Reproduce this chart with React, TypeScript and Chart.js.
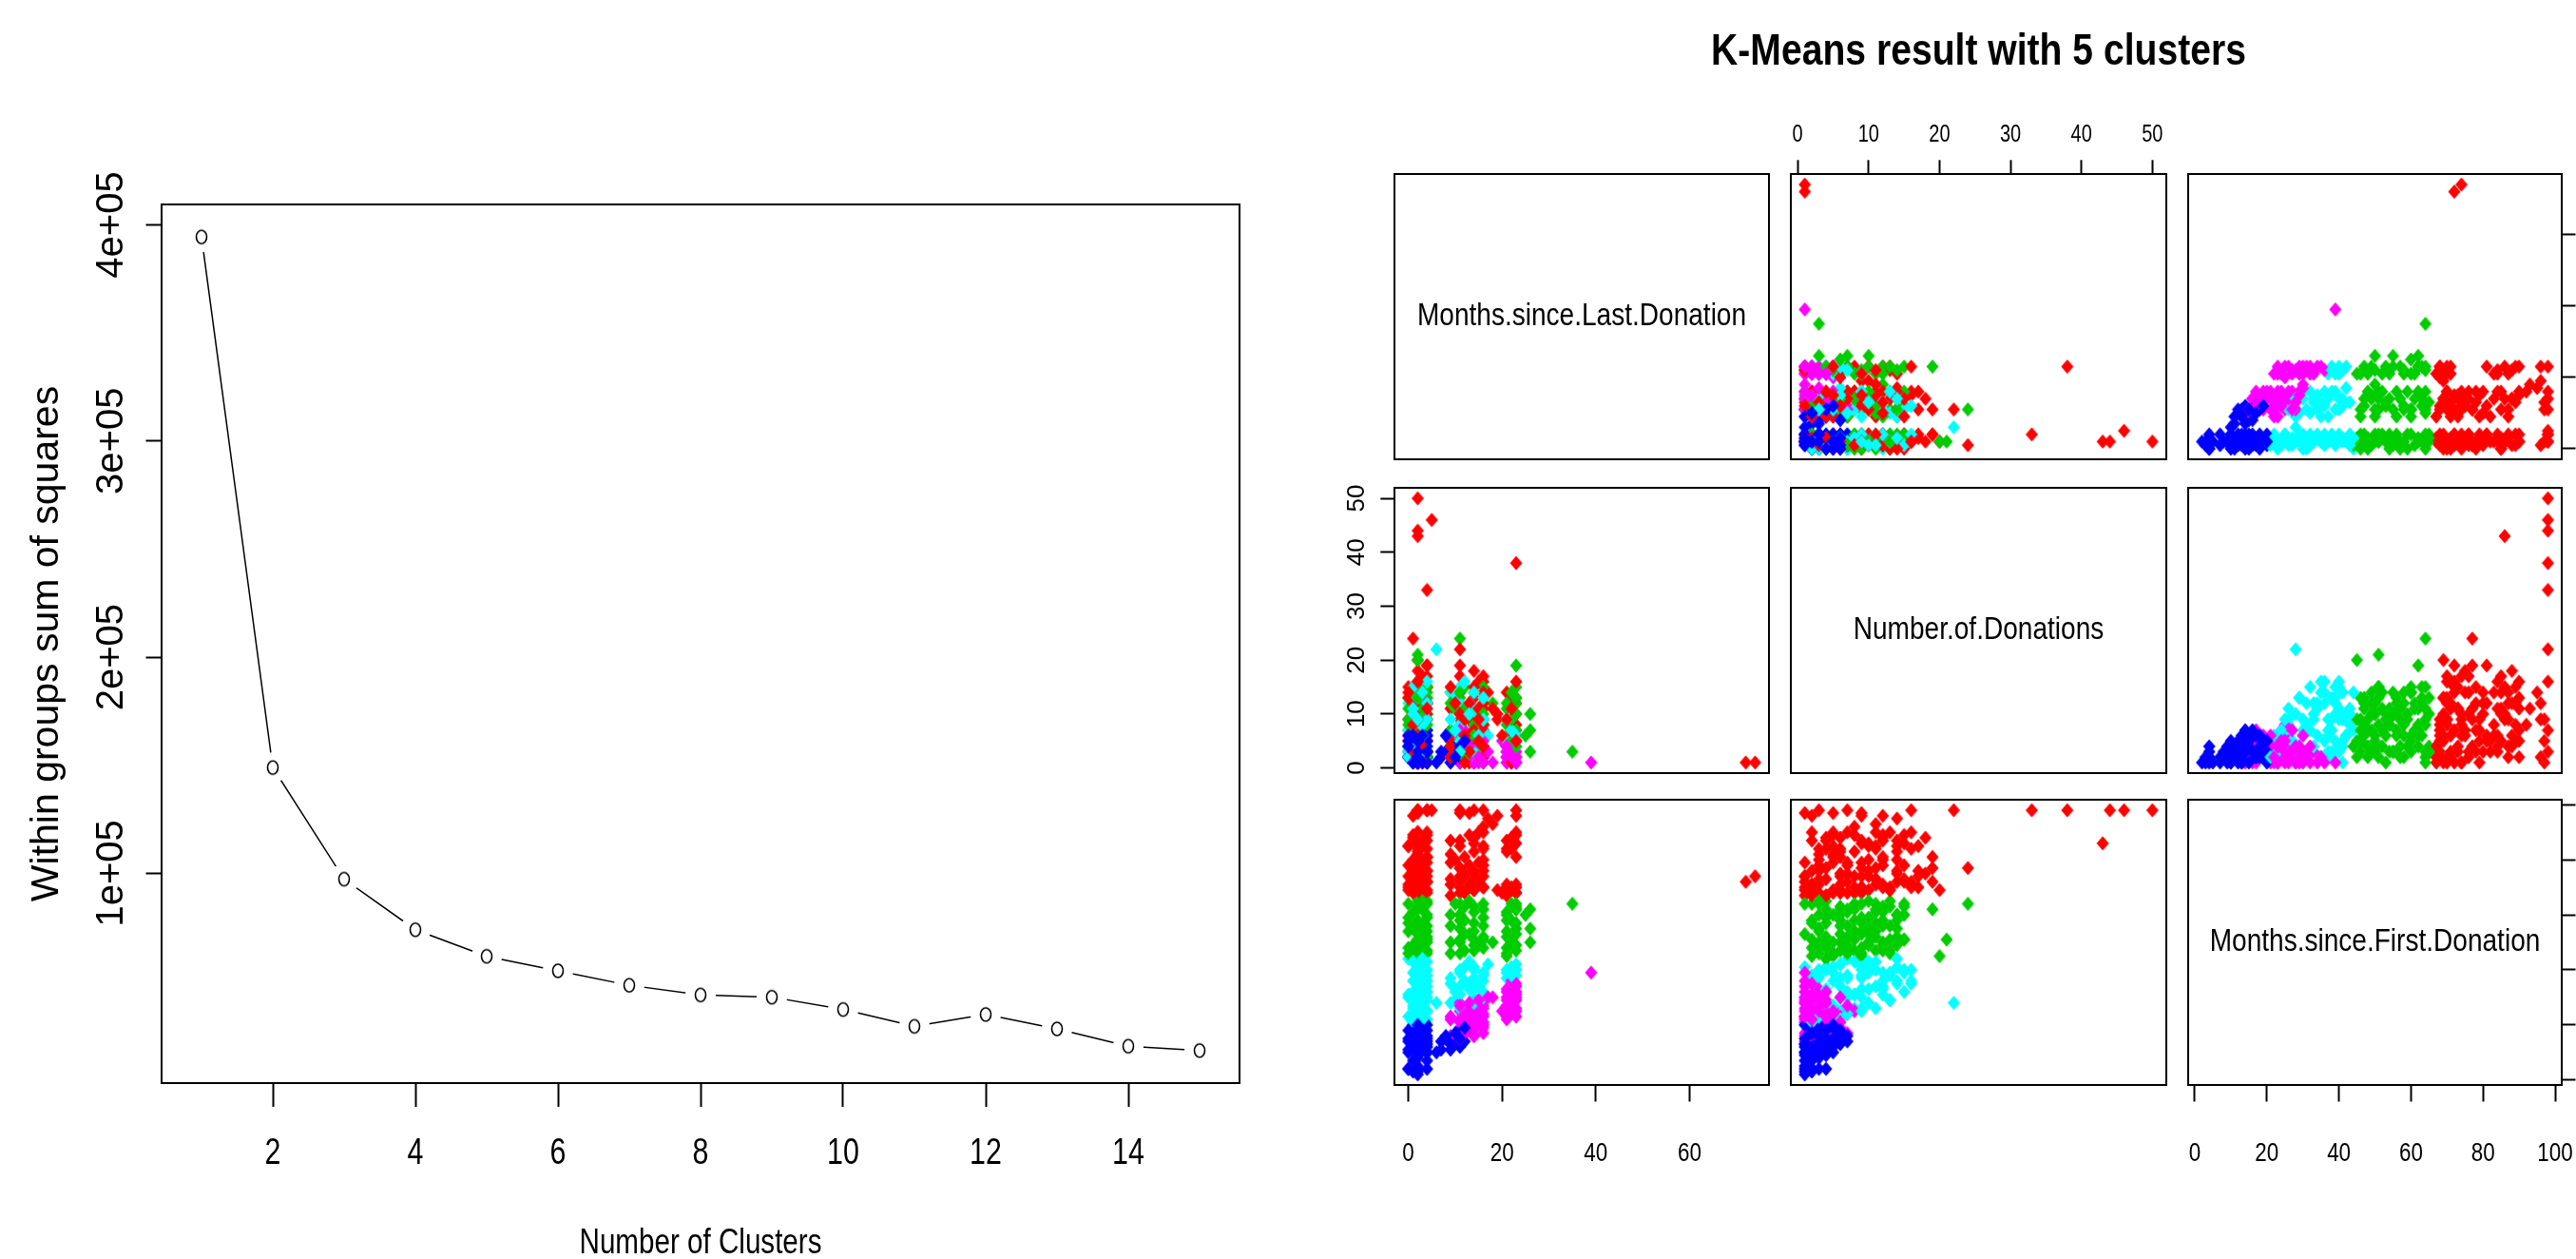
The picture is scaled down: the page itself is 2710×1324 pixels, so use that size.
import React, { useEffect, useRef } from "react";
import { Chart, registerables } from "chart.js";

Chart.register(...registerables);

// ================= Elbow plot data =================
const clusterCounts = [1, 2, 3, 4, 5, 6, 7, 8, 9, 10, 11, 12, 13, 14, 15];
const withinSS = [394400, 148900, 97300, 73900, 61600, 54900, 48200, 43700, 42700, 37000, 29200, 34700, 28000, 20000, 18000];
const elbowXTicks = [2, 4, 6, 8, 10, 12, 14];
const elbowYTicks = [100000, 200000, 300000, 400000];
const elbowYTickLabels = ["1e+05", "2e+05", "3e+05", "4e+05"];

// ================= K-means pairs data =================
const variableNames = ["Months.since.Last.Donation", "Number.of.Donations", "Months.since.First.Donation"];
const lastTicks = [0, 20, 40, 60];
const donationTicks = [0, 10, 20, 30, 40, 50];
const firstTicks = [0, 20, 40, 60, 80, 100];

const blueLast = [2, 2, 1, 0, 2, 4, 2, 4, 2, 2, 2, 6, 4, 2, 0, 9, 7, 1, 4, 11, 3, 2, 11, 4, 2, 9, 12, 0, 4, 8, 1, 2, 11, 10, 3, 12, 4, 11, 2, 1, 4, 2, 0, 1, 2, 4, 0, 2, 3, 1, 4, 2, 0, 3, 2, 4, 1, 2, 0, 3, 2, 9, 11, 7, 10, 12, 8];
const blueCount = [1, 1, 2, 3, 4, 1, 2, 2, 3, 1, 2, 1, 1, 3, 4, 2, 2, 5, 2, 1, 3, 6, 3, 7, 5, 4, 2, 2, 6, 3, 7, 4, 5, 4, 3, 3, 5, 2, 2, 3, 1, 1, 2, 1, 4, 3, 5, 2, 4, 1, 4, 3, 6, 1, 5, 3, 6, 2, 4, 6, 5, 1, 4, 3, 2, 5, 6];
const blueFirst = [2, 3, 3, 4, 4, 4, 4, 7, 8, 9, 9, 10, 10, 11, 11, 11, 11, 12, 12, 12, 13, 13, 13, 14, 14, 14, 14, 15, 15, 15, 16, 16, 16, 16, 17, 17, 18, 18, 19, 20, 20, 5, 4, 7, 9, 10, 10, 12, 12, 13, 13, 14, 14, 15, 15, 16, 17, 17, 18, 18, 20, 13, 15, 14, 17, 19, 16];

const magentaLast = [9, 11, 11, 9, 14, 14, 11, 16, 12, 14, 16, 11, 14, 16, 15, 11, 9, 14, 16, 12, 16, 14, 11, 13, 14, 16, 11, 14, 16, 18, 21, 23, 21, 20, 23, 21, 22, 23, 21, 23, 23, 21, 23, 22, 39, 11, 9, 12, 14, 16, 11, 13, 15, 9, 12, 14, 16, 11, 13, 15, 17, 21, 23, 22, 21, 23, 22, 21, 23];
const magentaCount = [3, 1, 2, 6, 1, 2, 5, 1, 7, 3, 2, 4, 4, 3, 1, 2, 5, 1, 6, 3, 7, 8, 1, 5, 2, 4, 3, 1, 2, 1, 1, 1, 2, 5, 2, 3, 1, 4, 2, 3, 1, 3, 2, 1, 1, 3, 2, 4, 6, 5, 6, 2, 4, 1, 5, 3, 1, 7, 4, 2, 3, 4, 5, 3, 1, 6, 2, 4, 1];
const magentaFirst = [13, 14, 14, 15, 16, 16, 16, 17, 17, 18, 19, 19, 20, 21, 21, 22, 22, 23, 23, 24, 24, 25, 25, 26, 26, 27, 28, 28, 29, 30, 22, 23, 24, 25, 26, 27, 28, 29, 30, 31, 32, 33, 35, 36, 39, 15, 16, 17, 19, 20, 21, 22, 23, 23, 24, 25, 26, 27, 28, 29, 30, 23, 25, 27, 29, 30, 31, 32, 34];

const cyanLast = [2, 2, 4, 2, 1, 4, 2, 1, 3, 2, 6, 4, 2, 4, 0, 4, 2, 4, 2, 2, 1, 2, 4, 2, 2, 3, 2, 4, 0, 11, 10, 9, 14, 11, 16, 14, 11, 9, 13, 16, 14, 16, 11, 14, 12, 17, 21, 23, 21, 23, 22, 1, 3, 0, 2, 4, 3, 1, 2, 0, 3, 1, 2, 4, 3, 1, 4, 2, 1, 3, 11, 14, 16, 10, 13, 15, 12, 9, 16, 11, 14, 13, 22, 21, 23];
const cyanCount = [1, 3, 2, 5, 4, 6, 8, 9, 2, 10, 22, 4, 7, 1, 12, 3, 9, 11, 16, 2, 14, 6, 13, 12, 15, 5, 10, 8, 7, 2, 13, 4, 6, 8, 3, 10, 12, 14, 2, 5, 7, 9, 15, 11, 4, 6, 3, 2, 5, 4, 1, 2, 6, 3, 7, 9, 11, 5, 13, 2, 8, 15, 4, 12, 3, 10, 16, 9, 11, 14, 5, 3, 9, 7, 12, 6, 16, 9, 13, 3, 14, 10, 7, 9, 6];
const cyanFirst = [20, 21, 22, 23, 24, 25, 26, 26, 27, 28, 28, 29, 30, 30, 31, 32, 33, 34, 35, 35, 36, 37, 38, 39, 40, 41, 42, 43, 44, 26, 29, 28, 30, 31, 32, 33, 34, 35, 35, 36, 37, 38, 39, 40, 41, 42, 37, 38, 39, 40, 41, 21, 22, 23, 24, 25, 26, 27, 29, 30, 31, 32, 33, 36, 38, 39, 40, 41, 43, 44, 27, 28, 30, 32, 33, 34, 36, 37, 39, 40, 41, 43, 38, 40, 42];

const greenLast = [2, 11, 4, 2, 14, 16, 21, 0, 23, 2, 14, 26, 4, 9, 2, 18, 11, 14, 16, 21, 4, 23, 2, 12, 21, 2, 11, 4, 16, 14, 23, 0, 21, 2, 11, 4, 9, 11, 21, 14, 16, 2, 26, 23, 12, 4, 16, 2, 4, 35, 11, 2, 2, 23, 23, 1, 3, 0, 2, 4, 3, 1, 2, 4, 3, 0, 2, 4, 1, 3, 2, 0, 4, 1, 3, 2, 0, 3, 9, 12, 15, 11, 16, 13, 14, 9, 12, 16, 11, 14, 13, 10, 21, 23, 22, 21, 23, 22, 21, 23, 22, 26, 25];
const greenCount = [2, 3, 5, 8, 6, 9, 4, 7, 7, 12, 14, 10, 10, 4, 3, 12, 13, 2, 7, 11, 14, 1, 6, 9, 5, 3, 10, 7, 13, 4, 2, 11, 6, 12, 8, 9, 14, 5, 3, 11, 8, 6, 7, 12, 15, 2, 1, 10, 13, 3, 24, 20, 21, 19, 15, 4, 9, 13, 5, 12, 2, 10, 15, 8, 4, 9, 11, 3, 14, 6, 9, 4, 15, 7, 11, 13, 8, 4, 7, 11, 3, 6, 15, 10, 8, 12, 2, 10, 14, 6, 3, 11, 9, 13, 5, 8, 10, 14, 12, 4, 9, 3, 6];
const greenFirst = [45, 46, 46, 47, 47, 48, 48, 48, 49, 49, 49, 50, 50, 50, 50, 50, 51, 51, 52, 52, 52, 53, 53, 53, 45, 55, 55, 56, 56, 57, 57, 57, 58, 58, 58, 59, 60, 60, 60, 61, 62, 62, 62, 63, 63, 64, 64, 65, 65, 64, 64, 45, 51, 62, 64, 44, 45, 46, 46, 47, 48, 49, 51, 51, 52, 54, 54, 54, 55, 56, 57, 59, 60, 61, 62, 63, 64, 65, 46, 47, 49, 50, 51, 53, 54, 56, 58, 59, 60, 63, 65, 64, 46, 47, 50, 54, 55, 58, 61, 62, 64, 55, 60];

const redLast = [2, 21, 4, 11, 23, 23, 2, 14, 19, 2, 0, 16, 22, 13, 23, 2, 9, 21, 0, 4, 11, 15, 2, 14, 3, 16, 11, 4, 2, 12, 4, 14, 1, 11, 1, 2, 16, 4, 9, 2, 2, 9, 14, 21, 4, 21, 3, 16, 2, 23, 2, 1, 14, 14, 22, 11, 4, 2, 16, 23, 16, 18, 17, 19, 23, 1, 2, 11, 13, 4, 14, 2, 5, 2, 23, 4, 11, 16, 72, 74, 2, 4, 16, 23, 0, 4, 3, 1, 4, 0, 2, 3, 1, 4, 2, 0, 3, 1, 4, 2, 0, 3, 1, 4, 2, 0, 3, 1, 4, 2, 9, 12, 14, 16, 11, 13, 15, 9, 12, 14, 16, 11, 13, 15, 10, 12, 16, 11, 14, 9, 13, 15, 20, 22, 21, 23, 22, 21, 23];
const redCount = [1, 4, 3, 2, 7, 8, 6, 5, 10, 20, 9, 8, 13, 1, 12, 12, 11, 2, 2, 15, 14, 16, 4, 3, 8, 17, 9, 10, 18, 6, 2, 10, 11, 4, 24, 7, 12, 5, 7, 14, 3, 5, 8, 14, 6, 3, 17, 11, 9, 10, 43, 12, 4, 18, 6, 14, 15, 2, 7, 13, 8, 11, 14, 9, 2, 12, 1, 5, 9, 3, 7, 50, 46, 44, 38, 33, 22, 16, 1, 1, 16, 19, 3, 5, 5, 12, 2, 5, 9, 13, 16, 3, 7, 19, 11, 6, 14, 3, 17, 9, 15, 1, 10, 12, 6, 14, 4, 8, 11, 16, 4, 9, 13, 2, 17, 6, 11, 15, 1, 7, 14, 19, 3, 9, 12, 6, 4, 10, 15, 2, 12, 5, 6, 1, 9, 16, 11, 9, 5];
const redFirst = [67, 67, 68, 68, 68, 68, 69, 69, 69, 69, 70, 70, 70, 70, 70, 71, 71, 71, 71, 72, 72, 72, 73, 73, 74, 74, 74, 74, 75, 75, 76, 76, 77, 77, 77, 78, 78, 79, 79, 80, 82, 82, 83, 83, 84, 84, 85, 85, 86, 86, 86, 88, 88, 88, 88, 87, 89, 90, 90, 90, 92, 93, 95, 96, 96, 96, 97, 97, 97, 98, 98, 98, 98, 98, 98, 98, 98, 98, 72, 74, 84, 81, 80, 81, 85, 87, 67, 68, 69, 69, 70, 71, 72, 72, 73, 74, 75, 76, 76, 77, 78, 79, 80, 81, 83, 85, 87, 89, 90, 90, 67, 68, 69, 70, 70, 71, 73, 73, 74, 75, 76, 77, 78, 79, 80, 81, 84, 85, 86, 87, 89, 90, 68, 69, 70, 71, 84, 87, 89];

const mainTitle = "K-Means result with 5 clusters";
const elbowXTitle = "Number of Clusters";
const elbowYTitle = "Within groups sum of squares";

// ================= styling / layout =================
// "narrowNN" is a marker family: text drawn with it is compressed horizontally to NN %
const NARROW80 = 'narrow80, "Liberation Sans", Arial, sans-serif';
const NARROW85 = 'narrow85, "Liberation Sans", Arial, sans-serif';
const SANS = '"Liberation Sans", Arial, Helvetica, sans-serif';

const clusters = [
  { color: "#FF0000", vars: [redLast, redCount, redFirst] },
  { color: "#00CD00", vars: [greenLast, greenCount, greenFirst] },
  { color: "#00FFFF", vars: [cyanLast, cyanCount, cyanFirst] },
  { color: "#FF00FF", vars: [magentaLast, magentaCount, magentaFirst] },
  { color: "#0000FF", vars: [blueLast, blueCount, blueFirst] },
];
const tickSets = [lastTicks, donationTicks, firstTicks];

// drawing sequence: every cluster spread evenly through the drawing order (as in a mixed data file)
function drawSequence(): [number, number][] {
  const items: { c: number; k: number; key: number }[] = [];
  clusters.forEach((cl, c) => {
    const n = cl.vars[0].length;
    for (let k = 0; k < n; k++) items.push({ c, k, key: (k + 0.5) / n + c * 1e-4 });
  });
  items.sort((a, b) => a.key - b.key);
  return items.map((it) => [it.c, it.k]);
}

function rRange(arr: number[]): [number, number] {
  const mn = Math.min(...arr);
  const mx = Math.max(...arr);
  const d = (mx - mn) * 0.04;
  return [mn - d, mx + d];
}

const ELBOW = { left: 0, top: 0, width: 1340, height: 1340 };
const ELBOW_BOX = { left: 170, top: 215, right: 1304, bottom: 1139 };

const BOX_COLS = [[1467, 1861], [1884, 2279], [2302, 2695]];
const BOX_ROWS = [[183, 483], [513, 813], [841, 1141]];
const MARGIN = 110;

type PanelSpec = { i: number; j: number; left: number; top: number; width: number; height: number; mL: number; mR: number; mT: number; mB: number };
const panelSpecs: PanelSpec[] = [];
for (let i = 0; i < 3; i++) {
  for (let j = 0; j < 3; j++) {
    const [l, r] = BOX_COLS[j];
    const [t, b] = BOX_ROWS[i];
    const mT = i === 0 && j === 1 ? t : MARGIN;
    panelSpecs.push({
      i, j,
      left: l - MARGIN, top: t - mT,
      width: r - l + 2 * MARGIN, height: b - t + mT + MARGIN,
      mL: MARGIN, mR: MARGIN, mT, mB: MARGIN,
    });
  }
}

function measure(text: string, font: string) {
  const g = document.createElement("canvas").getContext("2d")!;
  g.font = font;
  return g.measureText(text).width;
}

function makeDiamond(color: string) {
  const c = document.createElement("canvas");
  c.width = 14;
  c.height = 16;
  const g = c.getContext("2d")!;
  g.fillStyle = color;
  g.beginPath();
  g.moveTo(7, 0.5);
  g.lineTo(13.5, 8);
  g.lineTo(7, 15.5);
  g.lineTo(0.5, 8);
  g.closePath();
  g.fill();
  return c;
}

function makeRing() {
  const c = document.createElement("canvas");
  c.width = 16;
  c.height = 20;
  const g = c.getContext("2d")!;
  g.fillStyle = "#fff";
  g.strokeStyle = "#000";
  g.lineWidth = 1.6;
  g.beginPath();
  g.ellipse(8, 10, 5.5, 7, 0, 0, Math.PI * 2);
  g.fill();
  g.stroke();
  return c;
}

// compress text whose font carries a "narrowNN" marker family
const narrowText = {
  id: "narrowText",
  beforeInit(chart: any) {
    const ctx = chart.ctx;
    if (!ctx || ctx.__narrowPatched) return;
    const orig = ctx.fillText.bind(ctx);
    ctx.fillText = function (text: string, x: number, y: number, maxWidth?: number) {
      const m = /narrow(\d+)/i.exec(ctx.font);
      if (m) {
        const sx = Number(m[1]) / 100;
        ctx.save();
        ctx.translate(x, y);
        ctx.scale(sx, 1);
        if (maxWidth === undefined) orig(text, 0, 0);
        else orig(text, 0, 0, maxWidth / sx);
        ctx.restore();
      } else if (maxWidth === undefined) {
        orig(text, x, y);
      } else {
        orig(text, x, y, maxWidth);
      }
    };
    ctx.__narrowPatched = true;
  },
};

const frameBox = {
  id: "frameBox",
  afterDatasetsDraw(chart: any) {
    const { ctx, chartArea: a } = chart;
    ctx.save();
    ctx.strokeStyle = "#000";
    ctx.lineWidth = 2;
    ctx.strokeRect(a.left, a.top, a.right - a.left, a.bottom - a.top);
    ctx.restore();
  },
};

const diagLabel = {
  id: "diagLabel",
  afterDraw(chart: any, _args: any, opts: any) {
    if (!opts || !opts.text) return;
    const { ctx, chartArea: a } = chart;
    ctx.save();
    ctx.font = `${opts.size}px ${NARROW85}`;
    ctx.fillStyle = "#000";
    ctx.textAlign = "center";
    ctx.textBaseline = "middle";
    ctx.fillText(opts.text, (a.left + a.right) / 2, (a.top + a.bottom) / 2);
    ctx.restore();
  },
};

export default function App() {
  const elbowRef = useRef<HTMLCanvasElement>(null);
  const panelRefs = useRef<(HTMLCanvasElement | null)[]>([]);

  useEffect(() => {
    document.body.style.margin = "0";
    Chart.defaults.color = "#000";
    const charts: Chart[] = [];

    // ---------- Elbow chart ----------
    const eb = ELBOW_BOX;
    const pts = clusterCounts.map((k, idx) => ({ x: k, y: withinSS[idx] }));
    const xR = rRange(clusterCounts);
    const yR = rRange(withinSS);
    const yFont = `40px ${SANS}`;
    const yWidest = Math.max(...elbowYTickLabels.map((s) => measure(s, yFont)));
    const ring = makeRing();

    charts.push(
      new Chart(elbowRef.current!, {
        type: "scatter",
        data: {
          datasets: [
            { data: pts, showLine: false, pointStyle: ring as any, pointRadius: 8, order: 0, clip: false } as any,
            { data: pts, showLine: false, pointStyle: "circle", pointRadius: 16, backgroundColor: "#fff", borderWidth: 0, order: 1, clip: false } as any,
            { data: pts, showLine: true, borderColor: "#000", borderWidth: 1.5, pointRadius: 0, order: 2, clip: false } as any,
          ],
        },
        options: {
          responsive: false,
          animation: false,
          events: [],
          layout: { padding: { left: 0, top: eb.top, right: ELBOW.width - eb.right, bottom: 0 } },
          plugins: { legend: { display: false }, tooltip: { enabled: false } },
          scales: {
            x: {
              type: "linear",
              position: "bottom",
              min: xR[0],
              max: xR[1],
              afterBuildTicks: (s: any) => { s.ticks = elbowXTicks.map((v) => ({ value: v })); },
              afterFit: (s: any) => { s.height = ELBOW.height - eb.bottom; },
              grid: { drawOnChartArea: false, drawTicks: true, tickLength: 25, tickWidth: 2, tickColor: "#000" },
              border: { display: false },
              ticks: { font: { family: NARROW80, size: 38, lineHeight: 1 }, color: "#000", padding: 31, maxRotation: 0, minRotation: 0, autoSkip: false },
              title: { display: true, text: elbowXTitle, color: "#000", font: { family: NARROW80, size: 37, lineHeight: 1 }, padding: { top: 0, bottom: 14 } },
            },
            y: {
              type: "linear",
              position: "left",
              min: yR[0],
              max: yR[1],
              afterBuildTicks: (s: any) => { s.ticks = elbowYTicks.map((v) => ({ value: v })); },
              afterFit: (s: any) => { s.width = eb.left; },
              grid: { drawOnChartArea: false, drawTicks: true, tickLength: 16.5, tickWidth: 2, tickColor: "#000" },
              border: { display: false },
              ticks: {
                font: { family: SANS, size: 40, lineHeight: 1 },
                color: "#000",
                minRotation: 90,
                maxRotation: 90,
                crossAlign: "center",
                padding: 35.5 - yWidest / 2,
                autoSkip: false,
                callback: (v: any) => elbowYTickLabels[elbowYTicks.indexOf(Number(v))] ?? "",
              },
              title: { display: true, text: elbowYTitle, color: "#000", font: { family: SANS, size: 41, lineHeight: 1 }, padding: { top: 29.5, bottom: 0 } },
            },
          } as any,
        },
        plugins: [narrowText, frameBox],
      })
    );

    // ---------- Pairs panels ----------
    const ranges = clusters[0].vars.map((_, v) => rRange(clusters.flatMap((c) => c.vars[v])));
    const diamonds = clusters.map((c) => makeDiamond(c.color));
    const seq = drawSequence();
    const leftFont = `26px ${SANS}`;
    const leftWidest = Math.max(...donationTicks.map((t) => measure(String(t), leftFont)));
    const TITLE_SIZE = 46;
    const TITLE_PAD = 32;
    const hiddenAxis = { grid: { display: false }, ticks: { display: false }, border: { display: false } };

    panelSpecs.forEach((p, idx) => {
      const canvas = panelRefs.current[idx];
      if (!canvas) return;
      const { i, j } = p;
      const isDiag = i === j;
      const showTop = i === 0 && j === 1;
      const showBottom = i === 2 && j !== 1;
      const showLeft = j === 0 && i === 1;
      const showRight = j === 2 && i !== 1;
      const showX = showTop || showBottom;
      const showY = showLeft || showRight;
      const xVar = j;
      const yVar = i;
      const titleH = showTop ? TITLE_SIZE + TITLE_PAD : 0;

      const datasets = isDiag
        ? []
        : [
            {
              data: seq.map(([c, k]) => ({ x: clusters[c].vars[xVar][k], y: clusters[c].vars[yVar][k] })),
              pointStyle: seq.map(([c]) => diamonds[c]) as any,
              showLine: false,
              pointRadius: 7,
              clip: false,
            },
          ];

      const xScale: any = {
        type: "linear",
        position: showTop ? "top" : "bottom",
        display: showX,
        min: ranges[xVar][0],
        max: ranges[xVar][1],
        afterBuildTicks: (s: any) => { s.ticks = tickSets[xVar].map((v) => ({ value: v })); },
        grid: { drawOnChartArea: false, drawTicks: true, tickLength: showTop ? 14.7 : 17.5, tickWidth: 2, tickColor: "#000" },
        border: { display: false },
        ticks: {
          font: { family: NARROW80, size: showTop ? 25 : 28, lineHeight: 1 },
          color: "#000",
          padding: showTop ? 14 : 40.8,
          maxRotation: 0,
          minRotation: 0,
          autoSkip: false,
        },
      };
      if (showX) xScale.afterFit = (s: any) => { s.height = showTop ? p.mT - titleH : p.mB; };

      let yScale: any = {
        type: "linear",
        position: showLeft ? "left" : "right",
        display: showY,
        min: ranges[yVar][0],
        max: ranges[yVar][1],
        afterBuildTicks: (s: any) => { s.ticks = tickSets[yVar].map((v) => ({ value: v })); },
        grid: { drawOnChartArea: false, drawTicks: true, tickLength: showLeft ? 14.7 : 14.5, tickWidth: 2, tickColor: "#000" },
        border: { display: false },
        ticks: showLeft
          ? {
              display: true,
              font: { family: SANS, size: 26, lineHeight: 1 },
              color: "#000",
              minRotation: 90,
              maxRotation: 90,
              crossAlign: "center",
              padding: 24.5 - leftWidest / 2,
              autoSkip: false,
            }
          : { display: false },
      };
      if (showY) yScale.afterFit = (s: any) => { s.width = showLeft ? p.mL : p.mR; };

      const scales: any = { x: xScale, y: yScale };
      let padL = showLeft ? 0 : p.mL;
      let padR = showRight ? 0 : p.mR;
      if (showTop) {
        // invisible side axes keep the plot box in place while letting the title use the full canvas width
        yScale = { ...yScale, ...hiddenAxis, position: "left", display: true, afterFit: (s: any) => { s.width = p.mL; } };
        scales.y = yScale;
        scales.ySide = { type: "linear", position: "right", display: true, ...hiddenAxis, afterFit: (s: any) => { s.width = p.mR; } };
        padL = 0;
        padR = 0;
      }

      charts.push(
        new Chart(canvas, {
          type: "scatter",
          data: { datasets: datasets as any },
          options: {
            responsive: false,
            animation: false,
            events: [],
            layout: {
              padding: {
                left: padL,
                right: padR,
                top: showTop ? 0 : p.mT,
                bottom: showBottom ? 0 : p.mB,
              },
            },
            plugins: {
              legend: { display: false },
              tooltip: { enabled: false },
              title: showTop
                ? { display: true, text: mainTitle, color: "#000", font: { family: NARROW85, size: TITLE_SIZE, weight: "bold", lineHeight: 1 }, padding: { top: TITLE_PAD, bottom: 0 } }
                : { display: false },
              diagLabel: isDiag ? { text: variableNames[i], size: 33 } : { text: "" },
            } as any,
            scales,
          },
          plugins: [narrowText, frameBox, diagLabel],
        })
      );
    });

    return () => charts.forEach((c) => c.destroy());
  }, []);

  return (
    <div style={{ position: "fixed", left: 0, top: 0, width: 2710, height: 1324, overflow: "hidden", background: "#fff" }}>
      <canvas
        ref={elbowRef}
        width={ELBOW.width}
        height={ELBOW.height}
        style={{ position: "absolute", left: ELBOW.left, top: ELBOW.top }}
      />
      {panelSpecs.map((p, idx) => (
        <canvas
          key={idx}
          ref={(el) => { panelRefs.current[idx] = el; }}
          width={p.width}
          height={p.height}
          style={{ position: "absolute", left: p.left, top: p.top }}
        />
      ))}
    </div>
  );
}
